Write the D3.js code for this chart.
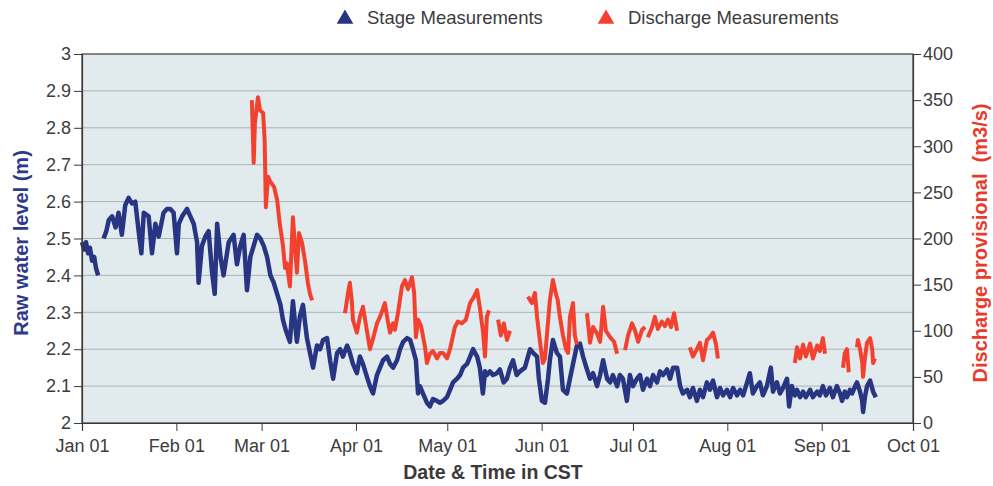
<!DOCTYPE html>
<html>
<head>
<meta charset="utf-8">
<script src="https://cdn.jsdelivr.net/npm/d3@7"></script>
<style>
  body { margin: 0; background: #fff; }
  text { font-family: Arial, "Liberation Sans", sans-serif; }
</style>
</head>
<body>
<script>
// days since Jan 01, null marks a gap in the record
var stageDays = [
  0, 0.7, 1.3, 2.0, 2.6, 3.3, 4.0, 4.6, 5.3, null,
  7.1, 8.0, 8.8, 9.9, 11.0, 12.0, 13.1, 14.2, 15.3, 16.4, 17.5, 18.6, 19.5, 20.3, 21.9, 23.0, 24.1, 25.2,
  26.8, 27.9, 29.0, 30.1, 31.2, 31.8, 32.9, 34.5, 35.6, 36.7, 37.8, 38.3, 39.4, 40.5, 41.6, 42.7, 43.6,
  44.4, 45.5, 46.5, 48.2, 49.8, 50.9, 52.0, 53.1, 54.2, 55.3, 56.4, 57.5, 58.6, 59.7, 60.8, 61.9, 63.0,
  64.1, 65.2, 66.0, 67.0, 68.3, 69.3, 70.0, 70.6, 71.6, 72.6, 73.3, 73.9, 74.9, 75.9, 77.2, 78.2, 79.2,
  80.5, 81.5, 82.5, 83.8, 84.8, 85.7, 87.1, 88.0, 89.0, 90.3, 91.3, 92.3, 93.6, 94.6, 95.6, 96.9, 97.9,
  98.9, 100.2, 101.2, 102.2, 103.5, 104.5, 105.5, 106.8, 107.8, 108.7, 109.7, 110.4, 111.0, 112.0, 113.3,
  114.3, 115.3, 116.6, 117.6, 118.6, 119.9, 120.9, 121.9, 123.2, 124.2, 125.2, 126.5, 127.5, 128.5, 129.8,
  130.7, 131.7, 132.4, 133.0, 134.0, 135.0, 136.3, 137.3, 138.5, 139.6, 140.6, 141.6, 142.8, 143.9, 145.5,
  147.2, 148.2, 149.5, 150.1, 151.1, 152.1, 153.1, 153.7, 154.7, 156.0, 157.0, 158.0, 159.3, 160.3, 161.3,
  162.6, 163.6, 164.6, 165.9, 166.9, 167.9, 169.2, 170.2, 171.2, 172.5, 173.5, 174.4, 175.8, 176.7, 177.7,
  179.0, 180.0, 181.0, 182.3, 183.3, 184.3, 185.6, 186.6, 187.6, 188.9, 189.9, 190.9, 192.2, 193.2, 194.2,
  195.5, 196.5, 197.4, 198.8, 199.7, 200.7, 202.0, 203.0, 204.0, 205.3, 206.3, 207.3, 208.6, 209.6, 210.6,
  211.9, 212.9, 213.9, 215.2, 216.2, 217.2, 218.5, 219.4, 220.4, 221.7, 222.7, 223.7, 225.0, 226.3, 227.0,
  228.3, 229.3, 230.3, 231.6, 232.3, 233.2, 234.2, 234.9, 235.9, 236.9, 237.8, 239.2, 240.1, 241.5, 242.4,
  243.4, 244.4, 245.7, 246.7, 248.0, 249.0, 249.7, 250.6, 251.3, 252.3, 253.0, 254.0, 254.6, 255.6, 256.3,
  256.6, 257.2, 257.9, 258.9, 259.9, 260.8
];
var stageLevels = [
  2.49, 2.47, 2.49, 2.46, 2.475, 2.44, 2.45, 2.42, 2.40, null,
  2.50, 2.52, 2.55, 2.56, 2.53, 2.57, 2.51, 2.59, 2.61, 2.595, 2.60, 2.52, 2.46, 2.57, 2.56, 2.46, 2.54, 2.505,
  2.57, 2.58, 2.58, 2.57, 2.46, 2.54, 2.56, 2.58, 2.56, 2.54, 2.49, 2.38, 2.48, 2.505, 2.52, 2.41, 2.35,
  2.54, 2.45, 2.40, 2.49, 2.51, 2.43, 2.48, 2.51, 2.36, 2.45, 2.48, 2.51, 2.50, 2.48, 2.45, 2.40, 2.38,
  2.35, 2.32, 2.28, 2.25, 2.22, 2.33, 2.27, 2.22, 2.29, 2.32, 2.27, 2.23, 2.19, 2.15, 2.21, 2.20, 2.225,
  2.23, 2.17, 2.12, 2.19, 2.20, 2.18, 2.21, 2.19, 2.16, 2.135, 2.18, 2.16, 2.125, 2.10, 2.08, 2.13, 2.15,
  2.17, 2.18, 2.16, 2.15, 2.17, 2.20, 2.22, 2.23, 2.225, 2.20, 2.17, 2.08, 2.10, 2.08, 2.055,
  2.045, 2.065, 2.06, 2.055, 2.06, 2.07, 2.09, 2.11, 2.12, 2.13, 2.15, 2.16, 2.18, 2.20, 2.18,
  2.15, 2.08, 2.14, 2.13, 2.14, 2.13, 2.135, 2.145, 2.11, 2.12, 2.15, 2.17, 2.13, 2.14, 2.15,
  2.20, 2.19, 2.18, 2.12, 2.06, 2.055, 2.12, 2.17, 2.225, 2.19, 2.18, 2.09, 2.08, 2.12, 2.16,
  2.21, 2.215, 2.18, 2.145, 2.12, 2.135, 2.10, 2.13, 2.17, 2.12, 2.11, 2.13, 2.10, 2.13, 2.12,
  2.06, 2.13, 2.10, 2.12, 2.13, 2.09, 2.12, 2.10, 2.13, 2.11, 2.14, 2.13, 2.145, 2.12, 2.15,
  2.15, 2.10, 2.08, 2.09, 2.07, 2.095, 2.06, 2.09, 2.07, 2.11, 2.09, 2.115, 2.07, 2.095, 2.075,
  2.09, 2.07, 2.095, 2.075, 2.09, 2.075, 2.11, 2.135, 2.08, 2.10, 2.11, 2.075, 2.10, 2.15, 2.085,
  2.11, 2.08, 2.095, 2.12, 2.045, 2.10, 2.075, 2.09, 2.07, 2.085, 2.07, 2.09, 2.07, 2.085, 2.075,
  2.10, 2.075, 2.095, 2.07, 2.10, 2.08, 2.06, 2.085, 2.07, 2.09, 2.08, 2.10, 2.11, 2.085, 2.06,
  2.03, 2.07, 2.10, 2.115, 2.085, 2.07
];

var dischargeDays = [
  55.8, 56.4, 56.8, 57.8, 58.5, 59.5, 60.0, 60.4, 61.1, 61.8, 63.1, 64.1, 65.0, 66.0, 66.7, 67.3, 68.3,
  69.3, 70.0, 70.6, 71.3, 72.3, 73.3, 74.2, 74.9, 75.6, null,
  86.4, 87.4, 88.0, 88.7, 89.0, 90.3, 91.3, 92.3, 93.6, 94.6, 95.9, 96.9, 97.9, 99.5, 100.5, 101.2, 102.2,
  102.8, 103.8, 105.1, 106.1, 107.1, 108.4, 109.1, 109.7, 110.4, 111.4, 112.7, 113.3, 114.3, 115.3, 116.6,
  117.6, 118.6, 119.9, 120.9, 122.5, 123.5, 124.8, 126.1, 127.5, 128.8, 129.8, 130.7, 131.7, 132.4, 133.0,
  133.7, null,
  136.7, 137.6, 138.6, 139.6, 140.6, null,
  146.5, 147.8, 148.8, 149.5, 150.5, 151.4, 152.1, 152.8, 153.7, 154.7, 155.7, 156.3, 157.0, 158.0, 159.0,
  159.7, 160.3, 161.3, 161.9, 162.6, null,
  165.9, 166.9, 167.9, 169.2, 170.2, 171.2, 172.1, 173.5, 174.8, 175.8, null,
  178.4, 179.4, 180.7, 181.7, 182.7, 184.0, 185.0, null,
  185.9, 187.3, 188.2, 189.2, 190.5, 191.5, 192.5, 193.5, 194.5, 195.5, null,
  199.7, 200.7, 202.0, 203.0, 204.0, 205.3, 206.3, 207.3, 208.3, 208.9, null,
  234.2, 234.9, 235.9, 236.9, 237.8, 239.2, 240.1, 241.5, 242.4, 243.4, 244.1, null,
  250.0, 250.6, 251.3, 251.9, null,
  254.6, 254.9, 255.6, 256.3, 256.6, 257.2, 257.9, 258.9, 259.6, 259.9, 260.5
];
var dischargeFlows = [
  350, 282, 325, 353, 339, 336, 307, 234, 267, 262, 256, 242, 215, 193, 168, 173, 148,
  223, 190, 163, 206, 195, 175, 152, 140, 133, null,
  119, 141, 152, 130, 112, 98, 115, 126, 100, 80, 95, 108, 115, 130, 110, 98, 108,
  101, 119, 148, 155, 145, 158, 142, 93, 112, 105, 82, 65, 75, 78, 70,
  76, 76, 70, 80, 104, 110, 108, 112, 130, 137, 144, 125, 100, 72, 115,
  122, null,
  112, 95, 108, 90, 100, null,
  137, 130, 141, 115, 87, 65, 70, 98, 133, 155, 140, 133, 115, 95, 80,
  76, 115, 130, 95, 85, null,
  119, 87, 104, 97, 88, 126, 100, 93, 88, 75, null,
  79, 95, 108, 100, 88, 101, 104, null,
  93, 104, 115, 102, 110, 105, 112, 104, 119, 100, null,
  82, 72, 80, 87, 68, 90, 93, 98, 85, 70, null,
  65, 82, 70, 85, 72, 86, 70, 84, 78, 92, 75, null,
  60, 76, 80, 55, null,
  82, 90, 80, 66, 50, 70, 87, 92, 80, 65, 70
];

var stageTicks = [2, 2.1, 2.2, 2.3, 2.4, 2.5, 2.6, 2.7, 2.8, 2.9, 3];
var stageTickLabels = ["2", "2.1", "2.2", "2.3", "2.4", "2.5", "2.6", "2.7", "2.8", "2.9", "3"];
var flowTicks = [0, 50, 100, 150, 200, 250, 300, 350, 400];
var monthLabels = ["Jan 01", "Feb 01", "Mar 01", "Apr 01", "May 01", "Jun 01", "Jul 01", "Aug 01", "Sep 01", "Oct 01"];

var width = 993;
var height = 486;
var plotLeft = 82, plotRight = 913, plotTop = 54, plotBottom = 423;

var start = new Date(2011, 0, 1);
var end = new Date(2011, 9, 1);

function toDate(day) {
  return new Date(start.getTime() + day * 864e5);
}

function zipSeries(days, values) {
  var out = [];
  for (var i = 0; i < days.length; i++) {
    out.push(days[i] === null ? null : { date: toDate(days[i]), value: values[i] });
  }
  return out;
}

var stage = zipSeries(stageDays, stageLevels);
var discharge = zipSeries(dischargeDays, dischargeFlows);

var x = d3.scaleTime().domain([start, end]).range([plotLeft, plotRight]);
var yStage = d3.scaleLinear().domain([2, 3]).range([plotBottom, plotTop]);
var yFlow = d3.scaleLinear().domain([0, 400]).range([plotBottom, plotTop]);

var svg = d3.select('body').append('svg')
  .attr('width', width)
  .attr('height', height);

svg.append('rect')
  .attr('x', plotLeft)
  .attr('y', plotTop)
  .attr('width', plotRight - plotLeft)
  .attr('height', plotBottom - plotTop)
  .attr('fill', '#e1eaed');

svg.append('g')
  .selectAll('line')
  .data(stageTicks.slice(1, -1))
  .enter()
    .append('line')
    .attr('x1', plotLeft)
    .attr('x2', plotRight)
    .attr('y1', function(d) { return yStage(d); })
    .attr('y2', function(d) { return yStage(d); })
    .attr('stroke', '#aab3b7')
    .attr('stroke-width', 1);

var stageLine = d3.line()
  .defined(function(d) { return d !== null; })
  .x(function(d) { return x(d.date); })
  .y(function(d) { return yStage(d.value); });

var flowLine = d3.line()
  .defined(function(d) { return d !== null; })
  .x(function(d) { return x(d.date); })
  .y(function(d) { return yFlow(d.value); });

svg.append('path')
  .datum(stage)
  .attr('d', stageLine)
  .attr('fill', 'none')
  .attr('stroke', '#283583')
  .attr('stroke-width', 4.5)
  .attr('stroke-linejoin', 'round');

svg.append('path')
  .datum(discharge)
  .attr('d', flowLine)
  .attr('fill', 'none')
  .attr('stroke', '#f2412f')
  .attr('stroke-width', 4)
  .attr('stroke-linejoin', 'round');

// frame
svg.append('rect')
  .attr('x', plotLeft)
  .attr('y', plotTop)
  .attr('width', plotRight - plotLeft)
  .attr('height', plotBottom - plotTop)
  .attr('fill', 'none')
  .attr('stroke', '#3a3a3a')
  .attr('stroke-width', 1.2);

function styleAxis(g) {
  g.select('.domain').attr('stroke', '#3a3a3a').attr('stroke-width', 1.2);
  g.selectAll('.tick line').attr('stroke', '#3a3a3a');
  g.selectAll('.tick text')
    .attr('fill', '#3c3c3c')
    .style('font-size', '18px')
    .style('font-family', 'Arial, "Liberation Sans", sans-serif');
}

svg.append('g')
  .attr('transform', 'translate(' + plotLeft + ',0)')
  .call(d3.axisLeft(yStage)
    .tickValues(stageTicks)
    .tickSize(8)
    .tickPadding(3)
    .tickFormat(function(d, i) { return stageTickLabels[i]; }))
  .call(styleAxis);

svg.append('g')
  .attr('transform', 'translate(' + plotRight + ',0)')
  .call(d3.axisRight(yFlow)
    .tickValues(flowTicks)
    .tickSize(8)
    .tickPadding(2))
  .call(styleAxis);

svg.append('g')
  .attr('transform', 'translate(0,' + plotBottom + ')')
  .call(d3.axisBottom(x)
    .ticks(d3.timeMonth.every(1))
    .tickSize(8)
    .tickPadding(8)
    .tickFormat(function(d, i) { return monthLabels[i]; }))
  .call(styleAxis);

svg.append('text')
  .attr('transform', 'translate(28,243) rotate(-90)')
  .attr('text-anchor', 'middle')
  .attr('fill', '#2e3a8c')
  .style('font-size', '20px')
  .style('font-weight', 'bold')
  .text('Raw water level (m)');

svg.append('text')
  .attr('transform', 'translate(987,243) rotate(-90)')
  .attr('text-anchor', 'middle')
  .attr('fill', '#ea3a2c')
  .style('font-size', '20px')
  .style('font-weight', 'bold')
  .style('white-space', 'pre')
  .text('Discharge provisional  (m3/s)');

svg.append('text')
  .attr('x', 493)
  .attr('y', 479)
  .attr('text-anchor', 'middle')
  .attr('fill', '#3a3a3a')
  .style('font-size', '19.5px')
  .style('font-weight', 'bold')
  .text('Date & Time in CST');

var legendItems = [
  { label: 'Stage Measurements', color: '#283583', x: 345 },
  { label: 'Discharge Measurements', color: '#f2412f', x: 606 }
];

var legend = svg.selectAll('.legend')
  .data(legendItems)
  .enter()
    .append('g')
    .attr('class', 'legend')
    .attr('transform', function(d) { return 'translate(' + d.x + ',19)'; });

legend.append('path')
  .attr('d', d3.symbol(d3.symbolTriangle, 120))
  .attr('fill', function(d) { return d.color; });

legend.append('text')
  .attr('x', 22)
  .attr('y', 5)
  .attr('fill', '#3c3c3c')
  .style('font-size', '18.5px')
  .text(function(d) { return d.label; });
</script>
</body>
</html>
